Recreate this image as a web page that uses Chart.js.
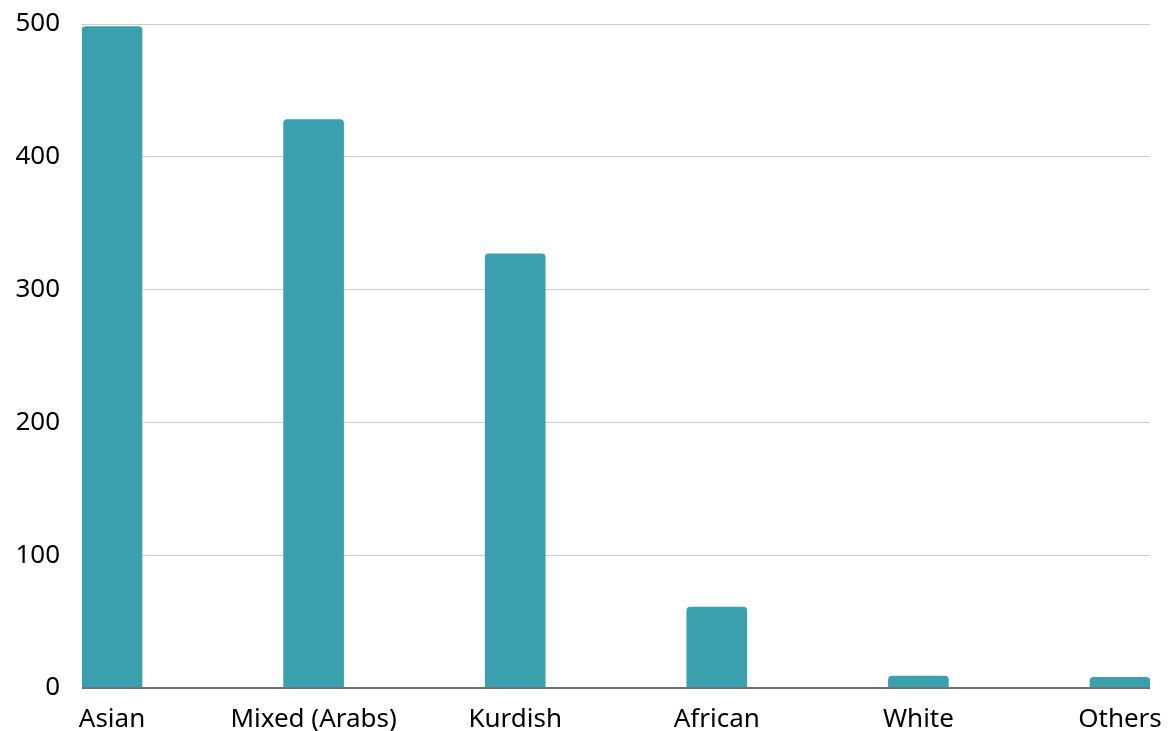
<!DOCTYPE html>
<html lang="en">
<head>
  <meta charset="UTF-8" />
  <title>Ethnicity counts</title>
  <script src="https://cdn.jsdelivr.net/npm/chart.js"></script>
  <style>
    body {
      margin: 0;
      background-color: white;
    }

    .chart-box {
      width: 1172px;
      height: 731px;
    }
  </style>
</head>
<body>
  <div class="chart-box">
    <canvas id="barChart"></canvas>
  </div>

  <script>
    const categories = ["Asian", "Mixed (Arabs)", "Kurdish", "African", "White", "Others"];
    const counts = [498, 428, 327, 61, 9, 8];
    const yTicks = [0, 100, 200, 300, 400, 500];

    // bars sit on a linear x axis so the first and last bar touch the plot edges
    const points = counts.map((v, i) => ({ x: i, y: v }));

    new Chart("barChart", {
      type: "bar",
      data: {
        datasets: [{
          data: points,
          backgroundColor: "#3aa0ad",
          barThickness: 60,
          borderRadius: { topLeft: 4, topRight: 4, bottomLeft: 0, bottomRight: 0 },
          borderSkipped: "bottom"
        }]
      },
      options: {
        responsive: true,
        maintainAspectRatio: false,
        animation: false,
        layout: { padding: { top: 24, right: 22, left: 0, bottom: 0 } },
        plugins: {
          legend: { display: false },
          tooltip: { enabled: false }
        },
        scales: {
          x: {
            type: "linear",
            offset: false,
            min: -0.1488,
            max: 5.1488,
            afterBuildTicks: scale => {
              scale.ticks = categories.map((_, i) => ({ value: i }));
            },
            afterFit: scale => {
              scale.height = 43;
              scale.paddingLeft = 0;
              scale.paddingRight = 0;
            },
            ticks: {
              color: "#000",
              font: { family: "Noto Sans", size: 26 },
              padding: 8,
              maxRotation: 0,
              autoSkip: false,
              callback: v => categories[v]
            },
            grid: { display: false },
            border: { display: false }
          },
          y: {
            min: 0,
            max: 500,
            afterBuildTicks: scale => {
              scale.ticks = yTicks.map(v => ({ value: v }));
            },
            afterFit: scale => {
              scale.width = 82;
              scale.paddingTop = 0;
              scale.paddingBottom = 0;
            },
            ticks: {
              color: "#000",
              font: { family: "Noto Sans", size: 26 },
              padding: 22
            },
            grid: {
              drawTicks: false,
              color: ctx => ctx.tick && ctx.tick.value === 0 ? "#6e6e6e" : "#cccccc",
              lineWidth: ctx => ctx.tick && ctx.tick.value === 0 ? 2 : 1
            },
            border: { display: false }
          }
        }
      }
    });
  </script>
</body>
</html>
